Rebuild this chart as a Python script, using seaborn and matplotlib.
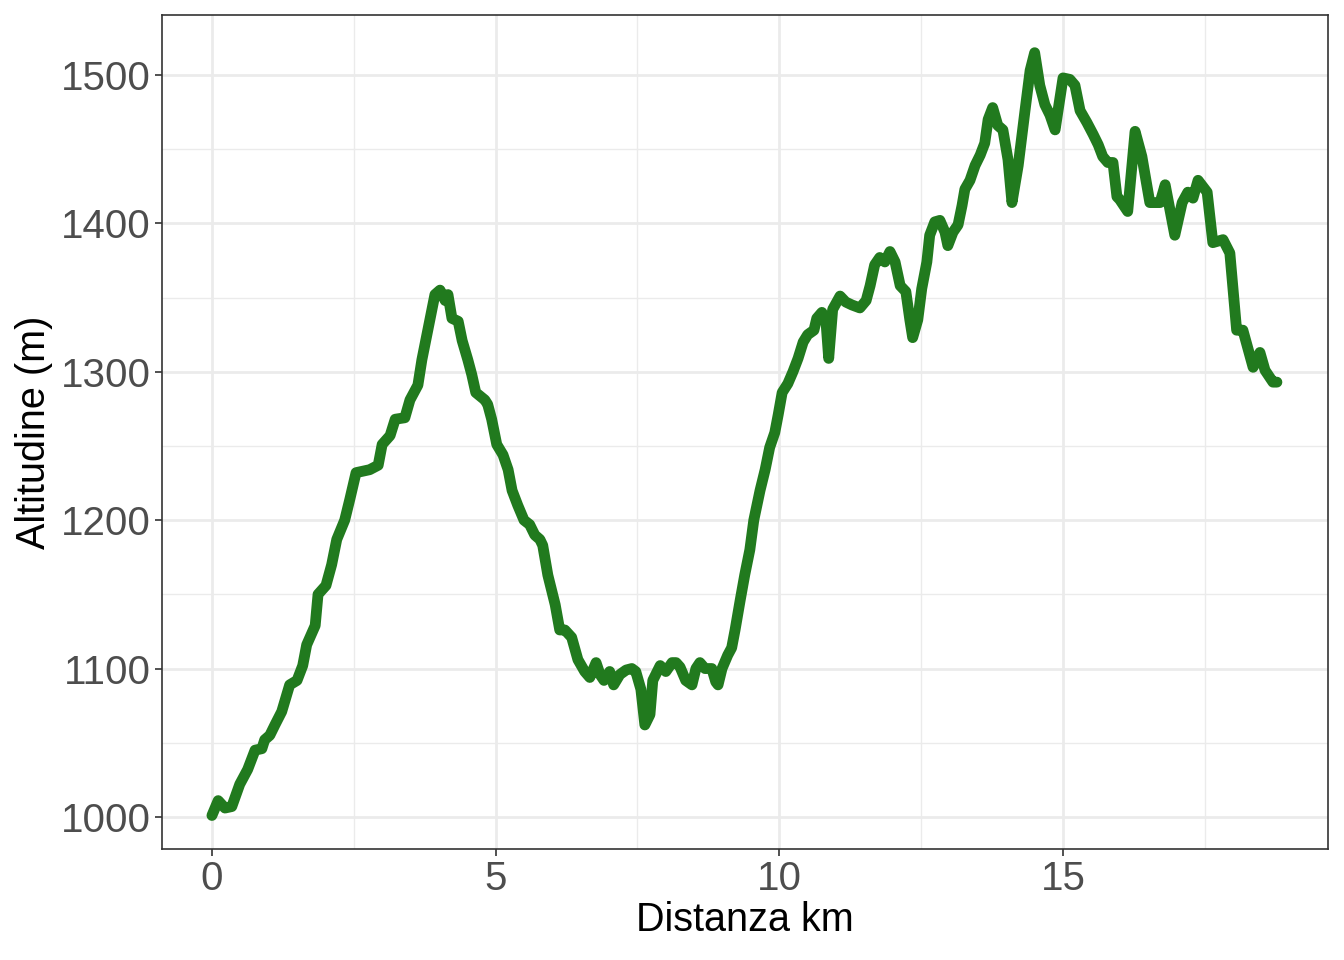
import numpy as np
import pandas as pd
import matplotlib
matplotlib.use("Agg")
import matplotlib.pyplot as plt
import seaborn as sns
from matplotlib.ticker import MultipleLocator

distanza_km = [
    0.00, 0.11, 0.23, 0.35, 0.49, 0.63, 0.76, 0.88, 0.93, 1.02, 1.11, 1.23, 1.37, 1.50, 1.60, 1.67,
    1.82, 1.87, 2.01, 2.11, 2.20, 2.34, 2.43, 2.54, 2.78, 2.93, 3.00, 3.14, 3.23, 3.40, 3.49, 3.63,
    3.70, 3.84, 3.93, 4.02, 4.11, 4.16, 4.23, 4.34, 4.41, 4.51, 4.58, 4.65, 4.81, 4.86, 4.93, 5.02,
    5.13, 5.22, 5.29, 5.39, 5.50, 5.60, 5.69, 5.78, 5.83, 5.92, 6.05, 6.13, 6.22, 6.34, 6.45, 6.57,
    6.66, 6.77, 6.84, 6.91, 7.01, 7.08, 7.19, 7.30, 7.40, 7.47, 7.56, 7.63, 7.72, 7.77, 7.90, 8.00,
    8.11, 8.18, 8.25, 8.35, 8.46, 8.53, 8.60, 8.69, 8.81, 8.88, 8.92, 8.99, 9.09, 9.16, 9.22, 9.31,
    9.39, 9.48, 9.55, 9.66, 9.75, 9.83, 9.92, 9.98, 10.05, 10.15, 10.24, 10.33, 10.42, 10.50, 10.61,
    10.66, 10.75, 10.82, 10.87, 10.94, 11.07, 11.17, 11.28, 11.42, 11.53, 11.60, 11.68, 11.77, 11.86,
    11.95, 12.04, 12.13, 12.23, 12.30, 12.35, 12.44, 12.51, 12.60, 12.65, 12.74, 12.83, 12.92, 12.97,
    13.06, 13.15, 13.22, 13.27, 13.36, 13.45, 13.54, 13.62, 13.68, 13.76, 13.85, 13.94, 14.03, 14.10,
    14.21, 14.33, 14.42, 14.50, 14.59, 14.68, 14.77, 14.86, 15.00, 15.12, 15.21, 15.30, 15.42, 15.53,
    15.62, 15.70, 15.79, 15.88, 15.95, 16.00, 16.14, 16.27, 16.39, 16.53, 16.71, 16.80, 16.97, 17.10,
    17.20, 17.29, 17.38, 17.54, 17.64, 17.82, 17.94, 18.06, 18.17, 18.35, 18.47, 18.56, 18.70, 18.77,
]
altitudine_m = [
    1001, 1011, 1006, 1007, 1022, 1032, 1045, 1046, 1052, 1055, 1062, 1071, 1089, 1092, 1102, 1116,
    1129, 1150, 1156, 1170, 1187, 1200, 1214, 1232, 1234, 1237, 1251, 1257, 1268, 1269, 1281, 1291,
    1308, 1335, 1352, 1355, 1348, 1352, 1336, 1334, 1321, 1308, 1298, 1286, 1281, 1278, 1268, 1251,
    1244, 1234, 1220, 1210, 1200, 1197, 1190, 1187, 1183, 1163, 1143, 1126, 1126, 1121, 1106, 1098,
    1094, 1104, 1096, 1092, 1098, 1089, 1096, 1099, 1100, 1098, 1086, 1062, 1069, 1092, 1102, 1098,
    1104, 1104, 1101, 1092, 1089, 1100, 1104, 1100, 1100, 1091, 1089, 1100, 1109, 1114, 1126, 1146,
    1163, 1180, 1200, 1220, 1234, 1249, 1259, 1271, 1286, 1292, 1300, 1309, 1320, 1325, 1328,
    1336, 1340, 1335, 1309, 1342, 1351, 1347, 1345, 1343, 1348, 1358, 1372, 1377, 1374,
    1381, 1374, 1358, 1354, 1335, 1323, 1335, 1356, 1374, 1392, 1401, 1402, 1394, 1385,
    1394, 1399, 1412, 1423, 1429, 1439, 1446, 1454, 1470, 1478, 1466, 1463, 1443, 1414,
    1439, 1476, 1503, 1515, 1493, 1480, 1473, 1463, 1498, 1497, 1493, 1476, 1468, 1460,
    1453, 1445, 1441, 1441, 1418, 1416, 1408, 1462, 1445, 1414, 1414, 1426, 1392, 1414,
    1421, 1417, 1429, 1421, 1387, 1389, 1380, 1328, 1328, 1303, 1313, 1301, 1293, 1293,
]
x_ticks = [0, 5, 10, 15]
y_ticks = [1000, 1100, 1200, 1300, 1400, 1500]

df = pd.DataFrame({"km": distanza_km, "alt": altitudine_m})

sns.set_theme(style="white")
plt.rcParams["font.family"] = ["Liberation Sans", "DejaVu Sans"]

fig = plt.figure(figsize=(13.44, 9.6), dpi=100)
ax = fig.add_axes([162/1344, 1 - 849/960, (1328-162)/1344, (849-15)/960])

sns.lineplot(data=df, x="km", y="alt", ax=ax, sort=False, estimator=None,
             color="#217A1E", linewidth=7.8, solid_capstyle="round", solid_joinstyle="round", zorder=3)

ax.set_xlim(-0.88, 19.67)
ax.set_ylim(978.4, 1540.4)
ax.set_xticks(x_ticks)
ax.set_yticks(y_ticks)
ax.xaxis.set_minor_locator(MultipleLocator(2.5))
ax.yaxis.set_minor_locator(MultipleLocator(50))
ax.grid(which="major", color="#EBEBEB", linewidth=2.0, zorder=0)
ax.grid(which="minor", color="#EBEBEB", linewidth=1.0, zorder=0)
ax.set_axisbelow(True)
ax.tick_params(which="major", direction="out", length=5, width=1.2, color="#333333",
               labelsize=29, labelcolor="#4D4D4D", pad=3, bottom=True, left=True)
ax.tick_params(which="minor", length=0)
for s in ax.spines.values():
    s.set_color("#333333")
    s.set_linewidth(1.2)

ax.set_xlabel("Distanza km", fontsize=28.5, color="black", labelpad=2)
ax.set_ylabel("Altitudine (m)", fontsize=28.5, color="black", labelpad=6)

fig.savefig("out.png", dpi=100)
